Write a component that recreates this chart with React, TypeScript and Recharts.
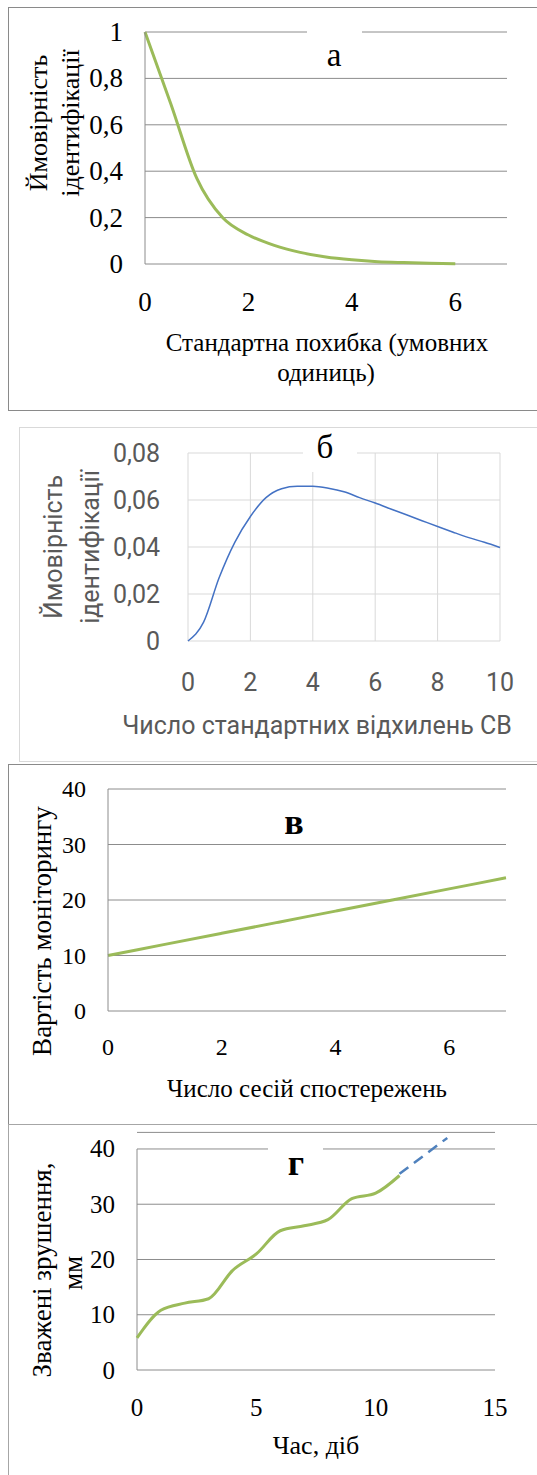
import {
  CartesianGrid,
  Line,
  LineChart,
  ReferenceLine,
  XAxis,
  YAxis,
} from "recharts";

const SERIF = '"Liberation Serif", "Times New Roman", serif';
const SANS = 'Roboto, "Liberation Sans", sans-serif';
const GREEN = "#9bbb59";
const GRID = "#8c8c8c";

// а — ймовірність vs стандартна похибка
const ERR_X = [0, 0.5, 1, 1.5, 2, 2.5, 3, 3.5, 4, 4.5, 5, 5.5, 6];
const PROB_A = [1, 0.69, 0.37, 0.2, 0.125, 0.08, 0.05, 0.03, 0.018, 0.01, 0.006, 0.003, 0.001];
const TICKS_A_X = [0, 2, 4, 6];
const TICKS_A_Y = [0, 0.2, 0.4, 0.6, 0.8, 1];

// б — ймовірність vs число стандартних відхилень
const SD_X = [0, 0.5, 1, 1.5, 2, 2.5, 3, 3.5, 4, 4.5, 5, 5.5, 6, 6.5, 7, 7.5, 8, 8.5, 9, 9.5, 10];
const PROB_B = [0, 0.008, 0.027, 0.042, 0.053, 0.061, 0.0648, 0.0658, 0.0658, 0.065, 0.0635, 0.061, 0.0587, 0.0562, 0.0537, 0.0512, 0.0487, 0.0463, 0.044, 0.042, 0.0398];
const TICKS_B_X = [0, 2, 4, 6, 8, 10];
const TICKS_B_Y = [0, 0.02, 0.04, 0.06, 0.08];

// в — вартість моніторингу
const SESSIONS = [0, 1, 2, 3, 4, 5, 6, 7];
const COST = [10, 12, 14, 16, 18, 20, 22, 24];
const TICKS_C_X = [0, 2, 4, 6];
const TICKS_C_Y = [0, 10, 20, 30, 40];

// г — зважені зрушення
const DAYS = [0, 1, 2, 3, 4, 5, 6, 7, 8, 9, 10, 11];
const SHIFT = [5.8, 10.8, 12.1, 12.9, 18, 21, 25.2, 26.1, 27.2, 31, 32, 35.2];
const FORECAST_DAYS = [11, 13];
const FORECAST = [35.5, 42];
const TICKS_D_X = [0, 5, 10, 15];
const TICKS_D_Y = [0, 10, 20, 30, 40];

const comma = (v: number) => String(v).replace(".", ",");

// custom tick so font family / size are applied for sure
const makeTick = (size: number, font: string, fill: string, axis: "x" | "y") => (p: any) => (
  <text
    x={p.x}
    y={p.y}
    textAnchor={axis === "x" ? "middle" : "end"}
    dominantBaseline={axis === "y" ? "central" : undefined}
    dy={axis === "x" ? "0.71em" : undefined}
    fontSize={size}
    fill={fill}
    style={{ fontFamily: font }}
  >
    {comma(p.payload.value)}
  </text>
);

function VText({ x, y, text, size, font, fill = "#000" }: any) {
  return (
    <text
      x={x}
      y={y}
      transform={`rotate(-90, ${x}, ${y})`}
      textAnchor="middle"
      dominantBaseline="central"
      fontSize={size}
      fill={fill}
      style={{ fontFamily: font }}
    >
      {text}
    </text>
  );
}

function HText({ x, y, text, size, font, fill = "#000", bold = false }: any) {
  return (
    <text
      x={x}
      y={y}
      textAnchor="middle"
      dominantBaseline="central"
      fontSize={size}
      fill={fill}
      fontWeight={bold ? "bold" : "normal"}
      style={{ fontFamily: font }}
    >
      {text}
    </text>
  );
}

function PanelA() {
  const data = ERR_X.map((x, i) => ({ x, p: PROB_A[i] }));
  return (
    <div style={{ position: "absolute", left: 0, top: 0 }}>
      <LineChart width={537} height={420} data={data} margin={{ top: 32, right: 30, bottom: 126, left: 0 }}>
        <CartesianGrid vertical={false} stroke={GRID} />
        <XAxis type="number" dataKey="x" domain={[0, 7]} ticks={TICKS_A_X} axisLine={false} tickLine={false} tickMargin={22} height={30} tick={makeTick(27, SERIF, "#000", "x")} />
        <YAxis
          width={145}
          domain={[0, 1]}
          ticks={TICKS_A_Y}
          axisLine={{ stroke: GRID }}
          tickLine={false}
          tickMargin={16}
          tick={makeTick(27, SERIF, "#000", "y")}
          label={{
            content: () => (
              <g>
                <VText x={38} y={123} text="Ймовірність" size={26} font={SERIF} />
                <VText x={70} y={123} text="ідентифікації" size={26} font={SERIF} />
                <HText x={327} y={342} text="Стандартна похибка (умовних" size={25} font={SERIF} />
                <HText x={326} y={372} text="одиниць)" size={25} font={SERIF} />
                <rect x={307} y={20} width={55} height={50} fill="#fff" />
                <HText x={334} y={55} text="а" size={33} font={SERIF} />
              </g>
            ),
          }}
        />
        <Line type="monotone" dataKey="p" stroke={GREEN} strokeWidth={3} dot={false} isAnimationActive={false} />
      </LineChart>
    </div>
  );
}

function PanelB() {
  const data = SD_X.map((x, i) => ({ x, p: PROB_B[i] }));
  return (
    <div style={{ position: "absolute", left: 0, top: 420 }}>
      <LineChart width={537} height={342} data={data} margin={{ top: 33, right: 37, bottom: 91, left: 0 }}>
        <CartesianGrid stroke="#d9d9d9" />
        <XAxis type="number" dataKey="x" domain={[0, 10]} ticks={TICKS_B_X} axisLine={false} tickLine={false} tickMargin={26} height={30} tick={makeTick(25, SANS, "#595959", "x")} />
        <YAxis
          width={188}
          domain={[0, 0.08]}
          ticks={TICKS_B_Y}
          axisLine={false}
          tickLine={false}
          tickMargin={22}
          tick={makeTick(25, SANS, "#595959", "y")}
          label={{
            content: () => (
              <g>
                <VText x={53} y={127} text="Ймовірність" size={25} font={SANS} fill="#595959" />
                <VText x={90} y={127} text="ідентифікації" size={25} font={SANS} fill="#595959" />
                <HText x={317} y={305} text="Число стандартних відхилень СВ" size={25} font={SANS} fill="#595959" />
                <rect x={303} y={7} width={54} height={45} fill="#fff" />
                <HText x={325} y={27} text="б" size={33} font={SERIF} />
              </g>
            ),
          }}
        />
        <Line type="monotone" dataKey="p" stroke="#4472c4" strokeWidth={1.5} dot={false} isAnimationActive={false} />
      </LineChart>
    </div>
  );
}

function PanelC() {
  const data = SESSIONS.map((x, i) => ({ x, cost: COST[i] }));
  return (
    <div style={{ position: "absolute", left: 0, top: 762 }}>
      <LineChart width={537} height={361} data={data} margin={{ top: 27, right: 31, bottom: 82, left: 0 }}>
        <CartesianGrid vertical={false} stroke={GRID} />
        <XAxis type="number" dataKey="x" domain={[0, 7]} ticks={TICKS_C_X} axisLine={false} tickLine={false} tickMargin={21} height={30} tick={makeTick(24, SERIF, "#000", "x")} />
        <YAxis
          width={108}
          domain={[0, 40]}
          ticks={TICKS_C_Y}
          axisLine={{ stroke: GRID }}
          tickLine={false}
          tickMargin={16}
          tick={makeTick(24, SERIF, "#000", "y")}
          label={{
            content: () => (
              <g>
                <VText x={42} y={169} text="Вартість моніторингу" size={27} font={SERIF} />
                <HText x={307} y={326} text="Число сесій спостережень" size={25} font={SERIF} />
                <HText x={294} y={60} text="в" size={36} font={SERIF} bold />
              </g>
            ),
          }}
        />
        <Line type="monotone" dataKey="cost" stroke={GREEN} strokeWidth={3} dot={false} isAnimationActive={false} />
      </LineChart>
    </div>
  );
}

function PanelD() {
  const actual = DAYS.map((x, i) => ({ x, v: SHIFT[i] }));
  const forecast = FORECAST_DAYS.map((x, i) => ({ x, v: FORECAST[i] }));
  return (
    <div style={{ position: "absolute", left: 0, top: 1123 }}>
      <LineChart width={537} height={352} margin={{ top: 9.4, right: 42, bottom: 75, left: 0 }}>
        <CartesianGrid vertical={false} stroke={GRID} />
        <XAxis type="number" dataKey="x" domain={[0, 15]} ticks={TICKS_D_X} axisLine={false} tickLine={false} tickMargin={22} height={30} tick={makeTick(25, SERIF, "#000", "x")} />
        <YAxis
          width={137}
          domain={[0, 43]}
          ticks={TICKS_D_Y}
          axisLine={false}
          tickLine={false}
          tickMargin={16}
          tick={makeTick(25, SERIF, "#000", "y")}
          label={{
            content: () => (
              <g>
                <VText x={42} y={147} text="Зважені зрушення," size={27} font={SERIF} />
                <VText x={73} y={150} text="мм" size={27} font={SERIF} />
                <HText x={316} y={322} text="Час, діб" size={26} font={SERIF} />
                <rect x={268} y={15} width={55} height={45} fill="#fff" />
                <HText x={296} y={40} text="г" size={36} font={SERIF} bold />
              </g>
            ),
          }}
        />
        <ReferenceLine segment={[{ x: 0, y: 0 }, { x: 0, y: 40 }]} stroke={GRID} />
        <Line data={actual} type="monotone" dataKey="v" stroke={GREEN} strokeWidth={3} dot={false} isAnimationActive={false} />
        <Line data={forecast} type="linear" dataKey="v" stroke="#4f81bd" strokeWidth={2.5} strokeDasharray="11 7" dot={false} isAnimationActive={false} />
      </LineChart>
    </div>
  );
}

export default function App() {
  return (
    <div style={{ position: "absolute", left: 0, top: 0, width: 537, height: 1475, background: "#fff", overflow: "hidden" }}>
      <PanelA />
      <PanelB />
      <PanelC />
      <PanelD />
      <div style={{ position: "absolute", left: 8, top: 7, width: 540, height: 402, borderLeft: "1.5px solid #8a8a8a", borderTop: "1.5px solid #8a8a8a", borderBottom: "1.5px solid #8a8a8a" }} />
      <div style={{ position: "absolute", left: 19, top: 427, width: 540, height: 333, borderLeft: "1px solid #d9d9d9", borderTop: "1px solid #d9d9d9", borderBottom: "1px solid #d9d9d9" }} />
      <div style={{ position: "absolute", left: 8, top: 764, width: 540, height: 359, borderLeft: "1.5px solid #8a8a8a", borderTop: "1.5px solid #8a8a8a", borderBottom: "1.5px solid #a6a6a6" }} />
      <div style={{ position: "absolute", left: 8, top: 1124, width: 540, height: 360, borderLeft: "1.5px solid #a6a6a6" }} />
    </div>
  );
}
